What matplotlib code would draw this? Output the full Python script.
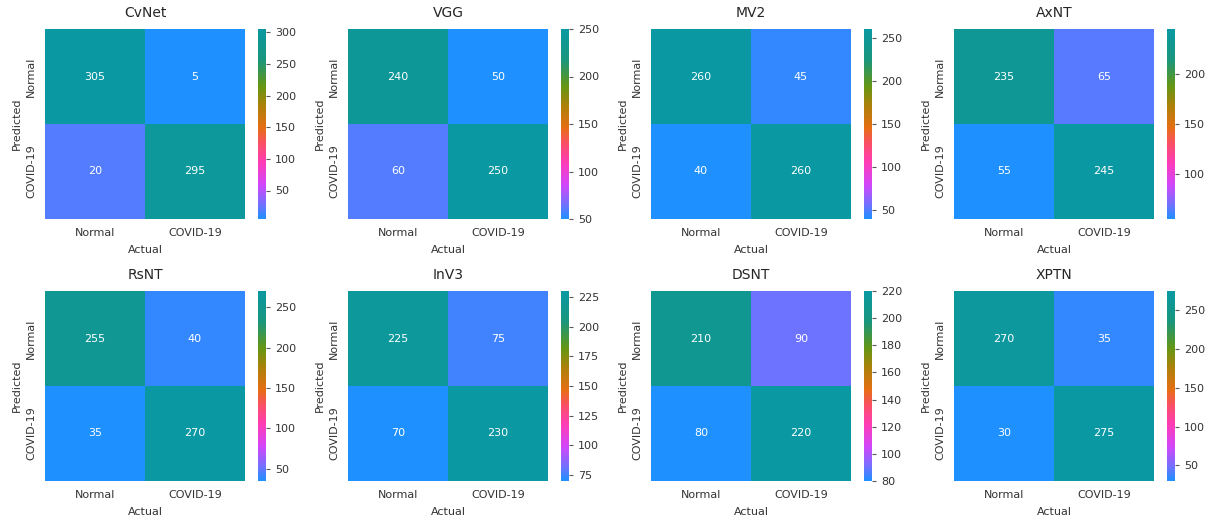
import matplotlib
matplotlib.use("Agg")
import matplotlib.pyplot as plt
from matplotlib.colors import LinearSegmentedColormap
from matplotlib.ticker import MaxNLocator
import seaborn as sns
import numpy as np

## model names and confusion matrices (rows = predicted, cols = actual)
models = ["CvNet", "VGG", "MV2", "AxNT", "RsNT", "InV3", "DSNT", "XPTN"]
cvnet = [[305, 5], [20, 295]]
vgg = [[240, 50], [60, 250]]
mv2 = [[260, 45], [40, 260]]
axnt = [[235, 65], [55, 245]]
rsnt = [[255, 40], [35, 270]]
inv3 = [[225, 75], [70, 230]]
dsnt = [[210, 90], [80, 220]]
xptn = [[270, 35], [30, 275]]
matrices = [cvnet, vgg, mv2, axnt, rsnt, inv3, dsnt, xptn]
labels = ["Normal", "COVID-19"]

## blue -> purple -> pink -> orange -> green -> teal
stops = [(0.00, (30, 144, 255)),
         (0.08, (120, 110, 255)),
         (0.18, (210, 70, 250)),
         (0.30, (255, 60, 180)),
         (0.40, (250, 80, 100)),
         (0.48, (230, 110, 20)),
         (0.60, (170, 130, 10)),
         (0.70, (100, 150, 20)),
         (0.84, (25, 150, 125)),
         (1.00, (10, 152, 162))]
cmap = LinearSegmentedColormap.from_list(
    "bluetoteal", [(p, tuple(c / 255 for c in rgb)) for p, rgb in stops])

plt.rcParams["font.size"] = 8
plt.rcParams["text.color"] = "0.2"
plt.rcParams["axes.labelcolor"] = "0.2"
plt.rcParams["xtick.color"] = "0.2"
plt.rcParams["ytick.color"] = "0.2"

W, H = 1205, 521
fig = plt.figure(figsize=(W / 100, H / 100), dpi=100)

for i, (name, m) in enumerate(zip(models, matrices)):
    row, col = divmod(i, 4)
    left = 45 + 303 * col
    top = 29 + 262 * row
    ax = fig.add_axes([left / W, 1 - (top + 190) / H, 200 / W, 190 / H])
    cax = fig.add_axes([(left + 213) / W, 1 - (top + 190) / H, 8 / W, 190 / H])
    sns.heatmap(np.array(m), annot=True, fmt="d", cmap=cmap, ax=ax, cbar_ax=cax,
                xticklabels=labels, yticklabels=labels,
                annot_kws={"color": "white", "fontsize": 8})
    for t in ax.texts:
        t.set_color("white")
    ax.tick_params(length=0, labelsize=8, pad=6.5)
    ax.set_title(name, fontsize=10, color="0.15", pad=8.5)
    ax.set_xlabel("Actual", fontsize=8, labelpad=5)
    ax.set_ylabel("Predicted", fontsize=8, labelpad=3)
    cax.yaxis.set_major_locator(MaxNLocator(nbins=7, steps=[1, 2, 2.5, 5, 10]))
    cax.tick_params(length=3, width=0.8, color="0.35", labelsize=8)

plt.savefig("out.png")
